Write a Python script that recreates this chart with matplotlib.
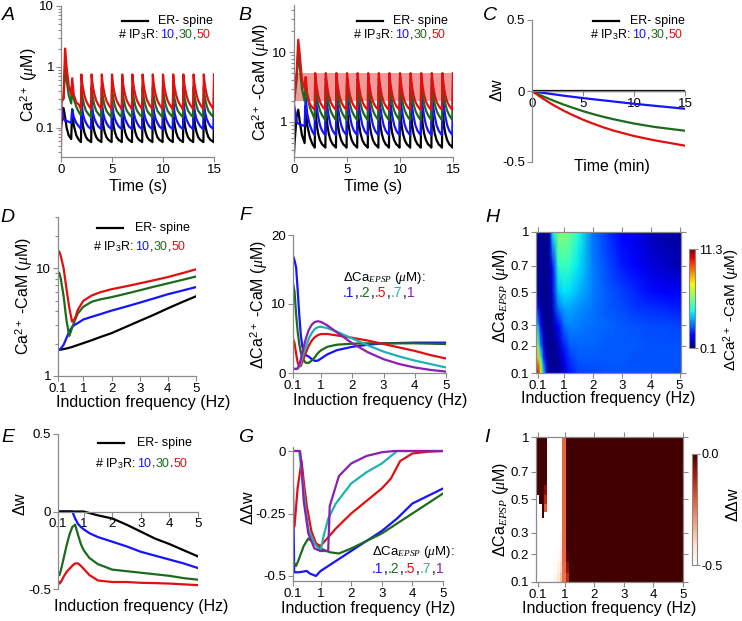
"""Ca2+ / Ca2+-CaM dynamics and plasticity panels A-I (ER- spine vs # IP3R)."""
import numpy as np
import matplotlib
matplotlib.use("Agg")
import matplotlib.pyplot as plt
from matplotlib.colors import LinearSegmentedColormap, Normalize
from matplotlib.cm import ScalarMappable
from matplotlib.lines import Line2D
from matplotlib.ticker import NullFormatter

plt.rcParams["font.family"] = ["Liberation Sans", "DejaVu Sans"]
plt.rcParams["mathtext.fontset"] = "custom"
plt.rcParams["mathtext.rm"] = "Liberation Sans"
plt.rcParams["mathtext.it"] = "Liberation Serif:italic"
plt.rcParams["mathtext.bf"] = "Liberation Sans:bold"

BLUE, GREEN, RED = "#1414ff", "#1c6b1c", "#e01010"
CYAN, PURPLE, BLACK, GREY = "#20b2b2", "#8c1fb0", "#000000", "#8a8a8a"

# ---------------- A / B: time traces (1 Hz pairing) ----------------
CYCLE_T = list(range(2, 16))                     # spike times (s)
PHASE = [0.0, 0.06, 0.15, 0.28, 0.45, 0.65, 0.85, 0.96]
HEAD_T = [0, 0.05, 0.25, 0.4, 0.55, 0.75, 1.0, 1.1, 1.25, 1.5, 1.75, 1.96]

A_HEAD_BLACK = [0.1, 0.12, 0.21, 0.15, 0.1, 0.075, 0.065, 0.2, 0.11, 0.075, 0.063, 0.058]
A_HEAD_BLUE = [0.2, 0.22, 0.14, 0.13, 0.13, 0.125, 0.12, 0.2, 0.15, 0.12, 0.105, 0.095]
A_HEAD_GREEN = [0.25, 0.27, 0.3, 1.05, 0.6, 0.35, 0.25, 0.45, 0.3, 0.22, 0.18, 0.16]
A_HEAD_RED = [0.05, 0.28, 0.3, 2.0, 1.0, 0.5, 0.35, 0.65, 0.35, 0.26, 0.24, 0.2]
A_CYC_BLACK = [0.2, 0.15, 0.11, 0.085, 0.07, 0.063, 0.06, 0.058]
A_CYC_BLUE = [0.29, 0.22, 0.17, 0.14, 0.12, 0.105, 0.098, 0.095]
A_CYC_GREEN = [0.46, 0.36, 0.29, 0.23, 0.19, 0.17, 0.155, 0.15]
A_CYC_RED = [0.75, 0.58, 0.45, 0.35, 0.28, 0.24, 0.215, 0.2]

B_HEAD_BLACK = [0.35, 0.5, 1.2, 1.5, 1.0, 0.65, 0.5, 1.7, 0.9, 0.6, 0.48, 0.43]
B_HEAD_BLUE = [1.8, 1.6, 1.0, 0.95, 0.92, 0.9, 0.88, 2.2, 1.3, 0.9, 0.72, 0.65]
B_HEAD_GREEN = [1.9, 2.2, 4.0, 10.0, 6.0, 3.0, 2.0, 3.6, 2.3, 1.6, 1.3, 1.1]
B_HEAD_RED = [1.9, 2.5, 5.0, 15.0, 9.0, 4.0, 3.0, 4.4, 2.5, 1.8, 1.6, 1.5]
B_CYC_BLACK = [1.87, 1.3, 0.9, 0.68, 0.55, 0.48, 0.45, 0.43]
B_CYC_BLUE = [3.2, 2.3, 1.6, 1.2, 0.9, 0.75, 0.68, 0.65]
B_CYC_GREEN = [4.2, 3.2, 2.4, 1.8, 1.45, 1.25, 1.12, 1.07]
B_CYC_RED = [5.0, 4.0, 3.1, 2.4, 1.95, 1.7, 1.55, 1.5]
B_BAND = (2.0, 5.0)

# ---------------- C: weight change over time ----------------
C_T = [0, 1, 2, 3, 4, 5, 6, 7, 8, 10, 12, 15]
C_BLACK = [0] * 12
C_BLUE = [0, -0.012, -0.022, -0.032, -0.041, -0.05, -0.058, -0.066, -0.074, -0.09, -0.104, -0.125]
C_GREEN = [0, -0.035, -0.065, -0.093, -0.118, -0.142, -0.163, -0.182, -0.199, -0.229, -0.253, -0.28]
C_RED = [0, -0.05, -0.095, -0.135, -0.17, -0.202, -0.23, -0.256, -0.279, -0.317, -0.347, -0.385]

# ---------------- D: Ca2+-CaM vs induction frequency ----------------
D_FREQ = [0.1, 0.15, 0.2, 0.3, 0.4, 0.5, 0.6, 0.7, 0.8, 1.0, 1.3, 1.6, 2, 2.5, 3, 3.5, 4, 4.5, 5]
D_BLACK = [1.75, 1.75, 1.76, 1.78, 1.8, 1.83, 1.86, 1.9, 1.94, 2.02, 2.15, 2.3, 2.5, 2.85, 3.25, 3.7, 4.25, 4.85, 5.5]
D_BLUE = [1.75, 1.76, 1.8, 1.95, 2.25, 2.6, 2.85, 3.0, 3.1, 3.35, 3.55, 3.75, 4.05, 4.4, 4.8, 5.25, 5.75, 6.2, 6.7]
D_GREEN = [9.3, 9.0, 8.0, 5.5, 3.3, 2.35, 2.8, 3.3, 3.8, 4.4, 4.9, 5.15, 5.4, 5.8, 6.25, 6.75, 7.25, 7.8, 8.4]
D_RED = [14.7, 14.2, 13.0, 10.0, 6.5, 4.3, 3.2, 3.4, 4.1, 5.0, 5.6, 6.0, 6.4, 6.8, 7.25, 7.75, 8.3, 9.0, 9.8]

# ---------------- E: dw vs induction frequency ----------------
E_FREQ = [0.1, 0.15, 0.2, 0.3, 0.4, 0.5, 0.6, 0.7, 0.8, 0.9, 1.0, 1.2, 1.5, 2, 2.5, 3, 3.5, 4, 4.5, 5]
E_BLACK = [0, 0, 0, 0, 0, 0, 0, 0, 0, 0, 0, -0.01, -0.025, -0.045, -0.085, -0.13, -0.175, -0.21, -0.25, -0.29]
E_BLUE = [0, 0, 0, 0, 0, 0, 0, -0.045, -0.08, -0.1, -0.115, -0.14, -0.165, -0.195, -0.225, -0.26, -0.285, -0.31, -0.335, -0.365]
E_GREEN = [-0.39, -0.41, -0.38, -0.3, -0.22, -0.15, -0.1, -0.085, -0.15, -0.21, -0.25, -0.3, -0.34, -0.375,
           -0.385, -0.395, -0.405, -0.415, -0.43, -0.44]
E_RED = [-0.445, -0.465, -0.455, -0.42, -0.39, -0.37, -0.35, -0.335, -0.335, -0.35, -0.37, -0.41, -0.445,
         -0.455, -0.455, -0.46, -0.462, -0.465, -0.47, -0.475]

# ---------------- F: dCa2+-CaM vs frequency, per dCa_EPSP ----------------
F_FREQ = [0.1, 0.15, 0.2, 0.25, 0.3, 0.35, 0.4, 0.5, 0.6, 0.7, 0.8, 0.9, 1.0, 1.2, 1.5, 2, 2.5, 3, 3.5, 4, 4.5, 5]
F_01 = [17, 16.3, 15.3, 12, 8.5, 5.5, 3.8, 2.6, 2.4, 2.0, 1.75, 1.8, 2.1, 2.7, 3.3, 3.8, 4.1, 4.3, 4.35, 4.4, 4.4, 4.4]
F_02 = [13, 11.8, 8.5, 6.0, 4.2, 3.0, 2.2, 1.5, 1.45, 1.8, 2.3, 2.9, 3.3, 3.8, 4.1, 4.25, 4.3, 4.3, 4.3, 4.3, 4.25, 4.2]
F_05 = [5.0, 4.3, 2.8, 1.5, 1.0, 1.0, 1.6, 2.8, 3.9, 4.7, 5.2, 5.5, 5.65, 5.65, 5.45, 5.1, 4.7, 4.2, 3.7, 3.2, 2.6, 2.1]
F_07 = [0.6, 0.6, 0.55, 0.6, 0.9, 1.4, 2.2, 3.6, 4.9, 5.8, 6.4, 6.65, 6.7, 6.5, 6.0, 5.0, 4.0, 3.1, 2.4, 1.8, 1.3, 0.8]
F_10 = [0.6, 0.6, 0.6, 0.7, 1.2, 2.0, 3.0, 4.8, 6.2, 7.0, 7.4, 7.5, 7.4, 6.9, 5.9, 4.3, 3.0, 2.0, 1.3, 0.8, 0.45, 0.2]

# ---------------- G: ddw vs frequency, per dCa_EPSP ----------------
G01_F = [0.1, 0.14, 0.3, 0.55, 0.65, 0.85, 1.0, 1.5, 2, 2.5, 3, 3.5, 4, 4.5, 5]
G01_W = [-0.14, -0.485, -0.485, -0.48, -0.49, -0.5, -0.48, -0.44, -0.4, -0.36, -0.32, -0.27, -0.21, -0.18, -0.15]
G02_F = [0.1, 0.2, 0.3, 0.45, 0.6, 0.8, 1.0, 1.3, 1.6, 2, 2.5, 3, 3.5, 4, 4.5, 5]
G02_W = [-0.44, -0.46, -0.43, -0.38, -0.35, -0.37, -0.39, -0.405, -0.41, -0.39, -0.36, -0.33, -0.29, -0.25,
         -0.21, -0.17]
G05_F = [0.1, 0.15, 0.25, 0.38, 0.45, 0.55, 0.7, 0.85, 1.0, 1.5, 2, 2.5, 3, 3.3, 3.6, 4, 4.5, 5]
G05_W = [-0.31, -0.3, -0.15, -0.04, -0.12, -0.22, -0.32, -0.37, -0.38, -0.31, -0.25, -0.2, -0.15, -0.11,
         -0.04, -0.01, -0.003, 0]
G07_F = [0.1, 0.3, 0.4, 0.5, 0.6, 0.8, 1.0, 1.1, 1.25, 1.5, 2, 2.5, 3, 3.5, 5]
G07_W = [0, 0, -0.1, -0.22, -0.31, -0.37, -0.4, -0.34, -0.27, -0.21, -0.13, -0.085, -0.05, 0, 0]
G10_F = [0.1, 0.33, 0.36, 0.45, 0.6, 0.8, 1.0, 1.25, 1.3, 1.6, 2.0, 2.5, 3.0, 3.4, 5]
G10_W = [0, 0, -0.03, -0.2, -0.33, -0.39, -0.4, -0.4, -0.22, -0.1, -0.05, -0.02, -0.005, 0, 0]

# ---------------- H: dCa2+-CaM map (rows: dCa_EPSP, cols: frequency) ----------------
H_FREQ = [0.03, 0.1, 0.2, 0.3, 0.4, 0.5, 0.6, 0.8, 1.0, 1.2, 1.5, 2, 2.5, 3, 3.5, 4, 4.5, 5.05]
H_CA = [0.1, 0.15, 0.2, 0.3, 0.4, 0.5, 0.7, 1.0]
H_VALUES = [
    [11.2, 10.5, 7.5, 4.0, 1.2, 0.4, 0.3, 0.3, 0.8, 1.7, 2.2, 2.3, 2.4, 2.4, 2.4, 2.4, 2.4, 2.4],
    [9.0, 8.0, 5.0, 2.0, 0.6, 0.3, 0.3, 0.4, 1.2, 2.1, 2.5, 2.5, 2.5, 2.5, 2.4, 2.4, 2.4, 2.4],
    [7.0, 6.0, 3.0, 1.0, 0.4, 0.3, 0.3, 0.6, 1.8, 2.5, 2.6, 2.6, 2.5, 2.5, 2.5, 2.4, 2.4, 2.4],
    [4.5, 3.5, 1.2, 0.4, 0.3, 0.3, 0.4, 1.4, 2.7, 3.0, 2.9, 2.7, 2.6, 2.5, 2.4, 2.3, 2.3, 2.2],
    [2.2, 1.6, 0.5, 0.3, 0.3, 0.35, 0.7, 2.8, 3.3, 3.3, 3.1, 2.8, 2.5, 2.3, 2.1, 2.0, 1.9, 1.8],
    [0.5, 0.4, 0.3, 0.3, 0.3, 0.4, 1.0, 3.6, 4.0, 3.9, 3.5, 2.9, 2.5, 2.2, 1.9, 1.6, 1.4, 1.3],
    [0.3, 0.3, 0.3, 0.3, 0.3, 0.4, 1.6, 4.6, 4.8, 4.6, 4.0, 2.9, 2.3, 1.8, 1.4, 1.0, 0.8, 0.6],
    [0.3, 0.3, 0.3, 0.3, 0.3, 0.5, 4.0, 5.8, 5.8, 5.5, 4.4, 2.8, 2.1, 1.5, 1.1, 0.7, 0.5, 0.4],
]
H_RANGE = (0.1, 11.3)

# ---------------- I: ddw map (cell edges) ----------------
I_F_EDGES = [0.03, 0.13, 0.22, 0.3, 0.4, 0.6, 0.75, 0.85, 0.92, 1.05, 1.15, 5.0]
I_CA_EDGES = [0.1, 0.13, 0.17, 0.22, 0.3, 0.38, 0.42, 0.47, 0.53, 0.6, 1.0]
I_VALUES = [
    [-0.5, -0.5, -0.5, -0.5, -0.5, -0.47, -0.43, -0.36, -0.24, -0.13, 0],
    [-0.5, -0.5, -0.5, -0.5, -0.5, -0.49, -0.46, -0.4, -0.23, -0.07, 0],
    [-0.5, -0.5, -0.5, -0.5, -0.5, -0.5, -0.48, -0.44, -0.22, -0.02, 0],
    [-0.5, -0.5, -0.5, -0.5, -0.5, -0.5, -0.5, -0.47, -0.22, 0, 0],
    [-0.5, -0.5, -0.5, -0.5, -0.5, -0.5, -0.5, -0.5, -0.22, 0, 0],
    [-0.5, -0.5, 0, -0.5, -0.5, -0.5, -0.5, -0.5, -0.22, 0, 0],
    [-0.5, -0.5, 0, -0.2, -0.5, -0.5, -0.5, -0.5, -0.22, 0, 0],
    [-0.5, 0, 0, -0.12, -0.5, -0.5, -0.5, -0.5, -0.22, 0, 0],
    [0, 0, 0, -0.06, -0.5, -0.5, -0.5, -0.5, -0.22, 0, 0],
    [0, 0, 0, 0, -0.5, -0.5, -0.5, -0.5, -0.22, 0, 0],
]
I_RANGE = (-0.5, 0.0)

FREQ_TICKS = [0.1, 1, 2, 3, 4, 5]
FREQ_LABELS = ["0.1", "1", "2", "3", "4", "5"]
CA_TICKS = [0.1, 0.2, 0.3, 0.5, 0.7, 1]
CA_LABELS = ["0.1", "0.2", "0.3", "0.5", "0.7", "1"]

W, H = 742, 621
fig = plt.figure(figsize=(W / 100, H / 100), dpi=100)


def axes_px(l, t, r, b):
    return fig.add_axes([l / W, 1 - b / H, (r - l) / W, (b - t) / H])


def style(ax, box=False):
    ax.spines["top"].set_visible(box)
    ax.spines["right"].set_visible(box)
    for s in ax.spines.values():
        s.set_color(GREY)
        s.set_linewidth(0.9)
    ax.tick_params(which="both", direction="out", color=GREY, labelsize=9.5, width=0.8, pad=1.5)
    ax.tick_params(which="major", length=3.5)
    ax.tick_params(which="minor", length=2)
    ax.patch.set_alpha(0)


def ftext(x, y, s, **kw):
    kw.setdefault("ha", "center")
    kw.setdefault("va", "center")
    return fig.text(x / W, 1 - y / H, s, **kw)


def colored_row(x, y, pieces, size=9):
    r = fig.canvas.get_renderer()
    for s, c in pieces:
        t = fig.text(x / W, 1 - y / H, s, color=c, fontsize=size, ha="left", va="baseline")
        x = t.get_window_extent(r).x1 + 0.4


def er_legend(x_line, y, x_text, x_row, y_row, size=9):
    fig.add_artist(Line2D([x_line / W, (x_line + 26) / W], [1 - y / H] * 2, color=BLACK, lw=1.6))
    ftext(x_text, y, "ER- spine", ha="left", fontsize=size)
    colored_row(x_row, y_row, [("# IP$_3$R: ", BLACK), ("10", BLUE), (",", BLACK), ("30", GREEN),
                               (",", BLACK), ("50", RED)], size)


def epsp_legend(x, y1, y2):
    colored_row(x, y1, [("$\\Delta$Ca$_{EPSP}$ ($\\mu$M):", BLACK)], 9.5)
    colored_row(x, y2, [(".1", BLUE), (",", BLACK), (".2", GREEN), (",", BLACK), (".5", RED),
                        (",", BLACK), (".7", CYAN), (",", BLACK), ("1", PURPLE)], 10)


def trace(head, cycle):
    t, v = list(HEAD_T), list(head)
    for t0 in CYCLE_T[:-1]:
        t += [t0 + p for p in PHASE]
        v += cycle
    t.append(CYCLE_T[-1])
    v.append(cycle[0])
    return t, v


def panel_letter(x, y, s):
    ftext(x, y, s, fontsize=14, style="italic")


LW = 1.6

# ---- A ----
ax = axes_px(61, 6, 214, 157)
style(ax)
for head, cyc, c in [(A_HEAD_BLACK, A_CYC_BLACK, BLACK), (A_HEAD_BLUE, A_CYC_BLUE, BLUE),
                     (A_HEAD_GREEN, A_CYC_GREEN, GREEN), (A_HEAD_RED, A_CYC_RED, RED)]:
    ax.plot(*trace(head, cyc), color=c, lw=LW)
ax.set_yscale("log")
ax.set_ylim(0.033, 10)
ax.set_xlim(0, 15)
ax.set_yticks([0.1, 1, 10], ["0.1", "1", "10"])
ax.yaxis.set_minor_formatter(NullFormatter())
ax.set_xticks([0, 5, 10, 15])
ftext(29, 85, "Ca$^{2+}$ ($\\mu$M)", rotation=90, fontsize=11.5)
ftext(138, 186, "Time (s)", fontsize=11.5)
er_legend(122, 21, 158, 118, 38)
panel_letter(8, 15, "A")

# ---- B ----
ax = axes_px(294, 5, 453, 157)
style(ax)
ax.fill_between([0, 15], *B_BAND, color="#f29a9a", lw=0, zorder=0)
for head, cyc, c in [(B_HEAD_BLACK, B_CYC_BLACK, BLACK), (B_HEAD_BLUE, B_CYC_BLUE, BLUE),
                     (B_HEAD_GREEN, B_CYC_GREEN, GREEN), (B_HEAD_RED, B_CYC_RED, RED)]:
    ax.plot(*trace(head, cyc), color=c, lw=LW)
ax.set_yscale("log")
ax.set_ylim(0.316, 47)
ax.set_xlim(0, 15)
ax.set_yticks([1, 10], ["1", "10"])
ax.yaxis.set_minor_formatter(NullFormatter())
ax.set_xticks([0, 5, 10, 15])
ftext(261, 82, "Ca$^{2+}$ -CaM ($\\mu$M)", rotation=90, fontsize=11.5)
ftext(373, 186, "Time (s)", fontsize=11.5)
er_legend(357, 21, 393, 353, 38)
panel_letter(245, 15, "B")

# ---- C ----
ax = axes_px(532, 20, 685, 162)
style(ax)
ax.spines["bottom"].set_position(("data", 0))
for y, c in [(C_BLUE, BLUE), (C_GREEN, GREEN), (C_RED, RED), (C_BLACK, BLACK)]:
    ax.plot(C_T, y, color=c, lw=LW)
ax.set_xlim(0, 15)
ax.set_ylim(-0.5, 0.5)
ax.set_yticks([-0.5, 0, 0.5], ["-0.5", "0", "0.5"])
ax.set_xticks([0, 5, 10, 15])
ftext(497, 90, "$\\Delta$w", rotation=90, fontsize=11.5)
ftext(612, 167, "Time (min)", fontsize=11.5)
er_legend(593, 21, 630, 590, 38)
panel_letter(490, 15, "C")

# ---- D ----
ax = axes_px(58, 217, 196, 376)
style(ax)
for y, c in [(D_BLACK, BLACK), (D_BLUE, BLUE), (D_GREEN, GREEN), (D_RED, RED)]:
    ax.plot(D_FREQ, y, color=c, lw=LW)
ax.set_yscale("log")
ax.set_ylim(1, 30)
ax.set_xlim(0.1, 5)
ax.set_yticks([1, 10], ["1", "10"])
ax.yaxis.set_minor_formatter(NullFormatter())
ax.set_xticks(FREQ_TICKS, FREQ_LABELS)
ftext(24, 296, "Ca$^{2+}$ -CaM ($\\mu$M)", rotation=90, fontsize=11.5)
ftext(143, 402, "Induction frequency (Hz)", fontsize=11.5)
er_legend(97, 228, 135, 93, 250)
panel_letter(7, 217, "D")

# ---- E ----
ax = axes_px(58, 434, 198, 589)
style(ax)
ax.spines["bottom"].set_position(("data", 0))
for y, c in [(E_BLUE, BLUE), (E_GREEN, GREEN), (E_RED, RED), (E_BLACK, BLACK)]:
    ax.plot(E_FREQ, y, color=c, lw=LW)
ax.set_xlim(0.1, 5)
ax.set_ylim(-0.5, 0.5)
ax.set_yticks([-0.5, 0, 0.5], ["-0.5", "0", "0.5"])
ax.set_xticks(FREQ_TICKS, FREQ_LABELS)
ftext(20, 504, "$\\Delta$w", rotation=90, fontsize=11.5)
ftext(141, 607, "Induction frequency (Hz)", fontsize=11.5)
er_legend(98, 443, 137, 95, 467)
panel_letter(8, 438, "E")

# ---- F ----
ax = axes_px(293, 235, 446, 373)
style(ax)
for y, c in [(F_01, BLUE), (F_02, GREEN), (F_05, RED), (F_07, CYAN), (F_10, PURPLE)]:
    ax.plot(F_FREQ, y, color=c, lw=LW)
ax.set_xlim(0.1, 5)
ax.set_ylim(0, 20)
ax.set_yticks([0, 10, 20])
ax.set_xticks(FREQ_TICKS, FREQ_LABELS)
ftext(259, 305, "$\\Delta$Ca$^{2+}$ -CaM ($\\mu$M)", rotation=90, fontsize=11.5)
ftext(380, 400, "Induction frequency (Hz)", fontsize=11.5)
epsp_legend(343, 281, 297)
panel_letter(245, 215, "F")

# ---- G ----
ax = axes_px(293, 447, 443, 581)
style(ax)
for x, y, c in [(G01_F, G01_W, BLUE), (G02_F, G02_W, GREEN), (G05_F, G05_W, RED),
                (G07_F, G07_W, CYAN), (G10_F, G10_W, PURPLE)]:
    ax.plot(x, y, color=c, lw=LW)
ax.set_xlim(0.1, 5)
ax.set_ylim(-0.52, 0.016)
ax.set_yticks([-0.5, -0.25, 0], ["-0.5", "-0.25", "0"])
ax.set_xticks(FREQ_TICKS, FREQ_LABELS)
ftext(248, 508, "$\\Delta\\Delta$w", rotation=90, fontsize=11.5)
ftext(368, 608, "Induction frequency (Hz)", fontsize=11.5)
epsp_legend(372, 555, 573)
panel_letter(246, 438, "G")

sqrt_scale = (np.sqrt, np.square)

# ---- H ----
ax = axes_px(536, 232, 681, 373)
style(ax, box=True)
fx, cy = np.meshgrid(H_FREQ, H_CA)
mh = ax.pcolormesh(fx, cy, np.array(H_VALUES), shading="gouraud", cmap="jet",
                   vmin=H_RANGE[0], vmax=H_RANGE[1], rasterized=True)
ax.set_yscale("function", functions=sqrt_scale)
ax.set_xlim(0.03, 5.05)
ax.set_ylim(0.1, 1)
ax.set_xticks(FREQ_TICKS, FREQ_LABELS)
ax.set_yticks(CA_TICKS, CA_LABELS)
ax.tick_params(top=True, right=True)
cax = axes_px(689, 249, 695, 348)
cb = fig.colorbar(mh, cax=cax)
cb.set_ticks(list(H_RANGE), labels=["0.1", "11.3"])
cb.outline.set_edgecolor(GREY)
cax.tick_params(labelsize=9, length=2, color=GREY, pad=1)
ftext(732, 310, "$\\Delta$Ca$^{2+}$ -CaM ($\\mu$M)", rotation=90, fontsize=11)
ftext(501, 295, "$\\Delta$Ca$_{EPSP}$ ($\\mu$M)", rotation=90, fontsize=11.5)
ftext(608, 399, "Induction frequency (Hz)", fontsize=11.5)
panel_letter(492, 217, "H")

# ---- I ----
ddw_cmap = LinearSegmentedColormap.from_list(
    "ddw", [(0.0, "#ffffff"), (0.18, "#fde0cc"), (0.56, "#e8673e"), (0.8, "#b01a0c"), (1.0, "#420000")])
ax = axes_px(536, 437, 683, 582)
style(ax, box=True)
ax.pcolormesh(I_F_EDGES, I_CA_EDGES, np.array(I_VALUES), shading="flat", cmap=ddw_cmap,
              vmin=I_RANGE[0], vmax=I_RANGE[1], rasterized=True)
ax.set_yscale("function", functions=sqrt_scale)
ax.set_xlim(0.03, 5)
ax.set_ylim(0.1, 1)
ax.set_xticks(FREQ_TICKS, FREQ_LABELS)
ax.set_yticks(CA_TICKS, CA_LABELS)
ax.tick_params(top=True, right=True)
cax = axes_px(692, 454, 697, 565)
cb = fig.colorbar(ScalarMappable(Normalize(*I_RANGE), ddw_cmap), cax=cax)
cb.set_ticks(list(I_RANGE), labels=["-0.5", "0.0"])
cb.outline.set_edgecolor(GREY)
cax.tick_params(labelsize=9, length=2, color=GREY, pad=1)
ftext(733, 505, "$\\Delta\\Delta$w", rotation=90, fontsize=11.5)
ftext(501, 509, "$\\Delta$Ca$_{EPSP}$ ($\\mu$M)", rotation=90, fontsize=11.5)
ftext(609, 609, "Induction frequency (Hz)", fontsize=11.5)
panel_letter(487, 437, "I")

fig.savefig("out.png", dpi=100)
